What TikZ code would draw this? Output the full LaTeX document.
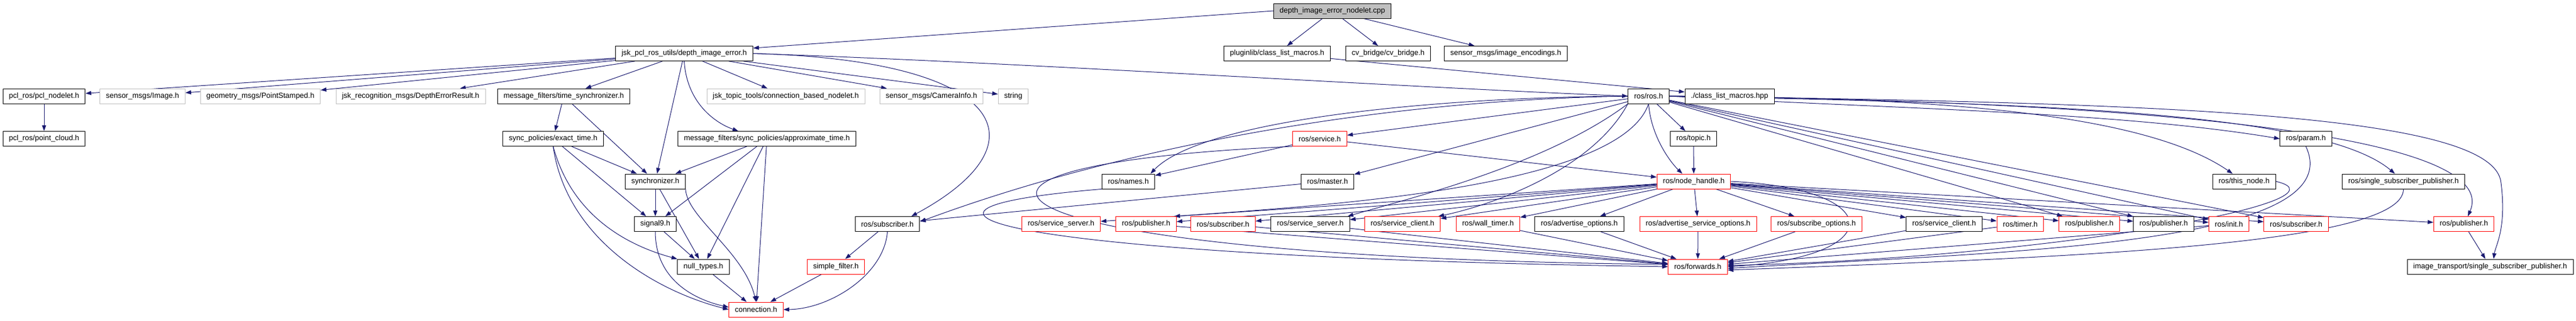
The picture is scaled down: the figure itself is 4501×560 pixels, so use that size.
\documentclass[tikz,border=0pt]{standalone}
\usepackage{fontspec}
\setmainfont{Liberation Sans}
\usepackage{tikz}
\usetikzlibrary{arrows.meta}
\usetikzlibrary{backgrounds}
\definecolor{edgeblue}{HTML}{191970}
\definecolor{undocgrey}{HTML}{BFBFBF}
\tikzset{
 hdr/.style={draw=black, line width=0.9pt, rectangle, minimum height=26pt, inner xsep=10.5pt, inner ysep=0pt, font=\fontsize{13}{15}\selectfont, fill=white},
 hdrred/.style={hdr, draw=red},
 hdrgrey/.style={hdr, draw=undocgrey},
 hdrroot/.style={hdr, fill=undocgrey},
 dep/.style={edgeblue, line width=1pt, ->, >={Triangle[length=10pt,width=7pt]}},
}

\begin{document}
\begin{tikzpicture}[x=1pt, y=1pt]
\useasboundingbox (0,0) rectangle (4501,-560);
\node[hdrroot] (root) at (2328,-19) {depth\_image\_error\_nodelet.cpp};

\node[hdr] (jsk) at (1195.5,-93.5) {jsk\_pcl\_ros\_utils/depth\_image\_error.h};
\node[hdr] (pluginlib) at (2231.5,-93.5) {pluginlib/class\_list\_macros.h};
\node[hdr] (cvbridge) at (2425.5,-93.5) {cv\_bridge/cv\_bridge.h};
\node[hdr] (imgenc) at (2631,-93.5) {sensor\_msgs/image\_encodings.h};

\node[hdr] (pclnodelet) at (77,-168) {pcl\_ros/pcl\_nodelet.h};
\node[hdrgrey] (image) at (249,-168) {sensor\_msgs/Image.h};
\node[hdrgrey] (ptstamped) at (455,-168) {geometry\_msgs/PointStamped.h};
\node[hdrgrey] (deperr) at (717.5,-168) {jsk\_recognition\_msgs/DepthErrorResult.h};
\node[hdr] (timesync) at (985,-168) {message\_filters/time\_synchronizer.h};
\node[hdrgrey] (connnodelet) at (1373,-168) {jsk\_topic\_tools/connection\_based\_nodelet.h};
\node[hdrgrey] (caminfo) at (1627.5,-168) {sensor\_msgs/CameraInfo.h};
\node[hdrgrey] (string) at (1770.5,-168) {string};
\node[hdr] (rosh) at (2880.5,-168) {ros/ros.h};
\node[hdr] (clmacros) at (3022,-168) {./class\_list\_macros.hpp};

\node[hdr] (pointcloud) at (77,-242.5) {pcl\_ros/point\_cloud.h};
\node[hdr] (exact) at (966.5,-242.5) {sync\_policies/exact\_time.h};
\node[hdr] (approx) at (1340,-242.5) {message\_filters/sync\_policies/approximate\_time.h};
\node[hdrred] (service) at (2306,-242.5) {ros/service.h};
\node[hdr] (topic) at (2959,-242.5) {ros/topic.h};
\node[hdr] (param) at (4029,-242.5) {ros/param.h};

\node[hdr] (synchronizer) at (1145,-317) {synchronizer.h};
\node[hdr] (names) at (1971.5,-317) {ros/names.h};
\node[hdr] (master) at (2319.5,-317) {ros/master.h};
\node[hdrred] (nodehandle) at (2959.5,-317) {ros/node\_handle.h};
\node[hdr] (thisnode) at (3921,-317) {ros/this\_node.h};
\node[hdr] (singlesub) at (4199.5,-317) {ros/single\_subscriber\_publisher.h};

\node[hdr] (signal) at (1145,-391.5) {signal9.h};
\node[hdr] (subb) at (1550.5,-391.5) {ros/subscriber.h};
\node[hdrred] (srvsrvr) at (1854,-391.5) {ros/service\_server.h};
\node[hdrred] (pubr) at (2002.5,-391.5) {ros/publisher.h};
\node[hdrred] (subr) at (2137,-391.5) {ros/subscriber.h};
\node[hdr] (srvsrvb) at (2289.5,-391.5) {ros/service\_server.h};
\node[hdrred] (srvclir) at (2450.5,-391.5) {ros/service\_client.h};
\node[hdrred] (walltimer) at (2600,-391.5) {ros/wall\_timer.h};
\node[hdr] (advopts) at (2759.5,-391.5) {ros/advertise\_options.h};
\node[hdrred] (advsrvopts) at (2967,-391.5) {ros/advertise\_service\_options.h};
\node[hdrred] (subopts) at (3174,-391.5) {ros/subscribe\_options.h};
\node[hdr] (srvclib) at (3397,-391.5) {ros/service\_client.h};
\node[hdrred] (timer) at (3530,-391.5) {ros/timer.h};
\node[hdrred] (pubrb) at (3650.5,-391.5) {ros/publisher.h};
\node[hdr] (pubb) at (3780.5,-391.5) {ros/publisher.h};
\node[hdrred] (init) at (3894.5,-391.5) {ros/init.h};
\node[hdrred] (subrc) at (4012,-391.5) {ros/subscriber.h};
\node[hdrred] (pubrc) at (4305,-391.5) {ros/publisher.h};

\node[hdr] (nulltypes) at (1229,-466) {null\_types.h};
\node[hdrred] (simplefilter) at (1460.5,-466) {simple\_filter.h};
\node[hdrred] (forwards) at (2966.5,-466) {ros/forwards.h};
\node[hdr] (itssp) at (4351,-466) {image\_transport/single\_subscriber\_publisher.h};

\node[hdrred] (connection) at (1321,-541) {connection.h};

\begin{scope}[on background layer]
\foreach \a/\b in {root/pluginlib, root/cvbridge, root/imgenc, pluginlib/clmacros,
  jsk/pclnodelet, jsk/image, jsk/ptstamped, jsk/deperr, jsk/timesync, jsk/connnodelet,
  jsk/caminfo, jsk/string, jsk/synchronizer, pclnodelet/pointcloud,
  timesync/exact, timesync/synchronizer, exact/synchronizer, exact/signal,
  approx/synchronizer, approx/signal, approx/nulltypes, approx/connection,
  synchronizer/signal, synchronizer/nulltypes, signal/nulltypes, nulltypes/connection,
  subb/simplefilter, simplefilter/connection,
  rosh/service, rosh/master, rosh/topic, topic/nodehandle,
  rosh/pubrb, rosh/pubb, rosh/init, rosh/subrc,
  service/names, service/nodehandle, master/subb,
  nodehandle/srvsrvr, nodehandle/pubr, nodehandle/subr, nodehandle/srvsrvb,
  nodehandle/srvclir, nodehandle/walltimer, nodehandle/advopts, nodehandle/advsrvopts,
  nodehandle/subopts, nodehandle/srvclib, nodehandle/timer, nodehandle/pubrb,
  nodehandle/pubb, nodehandle/init, nodehandle/subrc, nodehandle/pubrc,
  pubr/forwards, subr/forwards, srvsrvb/forwards, walltimer/forwards, advopts/forwards,
  advsrvopts/forwards, subopts/forwards, srvclib/forwards, timer/forwards,
  init/forwards, pubrc/itssp} {
 \draw[dep] (\a) -- (\b);
}
\draw[dep] (root.west) -- ([yshift=-4pt]jsk.north east);
\draw[dep] (jsk.east) .. controls (1800,-110) and (2400,-150) .. (rosh.west);
\draw[dep] (jsk.east) .. controls (1760,-105) and (1830,-250) .. ([xshift=-15pt]subb.north east);
\draw[dep] (jsk.south) .. controls (1200,-180) and (1250,-215) .. ([xshift=-50pt]approx.north);
\draw[dep] (exact.south) .. controls (1000,-380) and (1100,-430) .. (nulltypes.north west);
\draw[dep] (exact.south) .. controls (990,-420) and (1150,-510) .. (connection.west);
\draw[dep] (synchronizer.south east) .. controls (1200,-380) and (1300,-440) .. (connection.north);
\draw[dep] (signal.south) .. controls (1145,-480) and (1200,-520) .. ([yshift=4pt]connection.west);
\draw[dep] (subb.south) .. controls (1545,-480) and (1450,-540) .. (connection.east);
\draw[dep] (rosh.west) .. controls (2500,-170) and (2100,-210) .. ([xshift=-8pt]names.north east);
\draw[dep] (rosh.west) .. controls (2400,-175) and (1950,-260) .. ([yshift=4pt]subb.east);
\draw[dep] (rosh.south) .. controls (2885,-240) and (2920,-285) .. ([xshift=-20pt]nodehandle.north);
\draw[dep] (rosh.south west) .. controls (2700,-290) and (2450,-350) .. ([xshift=-4pt]srvsrvb.north east);
\draw[dep] (rosh.south west) .. controls (2780,-300) and (2600,-360) .. ([xshift=-4pt]srvclir.north east);
\draw[dep] (rosh.south) .. controls (2830,-330) and (2300,-360) .. ([xshift=-4pt]pubr.north east);
\draw[dep] (rosh.east) .. controls (3300,-190) and (3700,-195) .. (param.west);
\draw[dep] (rosh.east) .. controls (3400,-170) and (3750,-200) .. ([xshift=-20pt]thisnode.north);
\draw[dep] (rosh.east) .. controls (3500,-180) and (4050,-190) .. ([xshift=-15pt]singlesub.north);
\draw[dep] (rosh.east) .. controls (3600,-175) and (4380,-220) .. ([xshift=7pt]pubrc.north);
\draw[dep] (rosh.east) .. controls (3800,-180) and (4360,-200) .. (4370,-320) .. controls (4380,-400) and (4360,-430) .. ([xshift=6pt]itssp.north);
\draw[dep] (nodehandle.east) .. controls (3300,-330) and (3300,-450) .. (forwards.east);
\draw[dep] (names.south west) .. controls (1450,-370) and (1800,-450) .. (forwards.west);
\draw[dep] (service.south west) .. controls (1500,-290) and (1700,-450) .. ([yshift=4pt]forwards.west);
\draw[dep] (param.south) .. controls (4110,-430) and (3500,-440) .. ([yshift=-3pt]forwards.east);
\draw[dep] (thisnode.east) .. controls (4120,-350) and (3600,-450) .. ([yshift=2pt]forwards.east);
\draw[dep] (singlesub.south) .. controls (4200,-430) and (3600,-450) .. ([yshift=-6pt]forwards.east);
\end{scope}
\end{tikzpicture}
\end{document}
